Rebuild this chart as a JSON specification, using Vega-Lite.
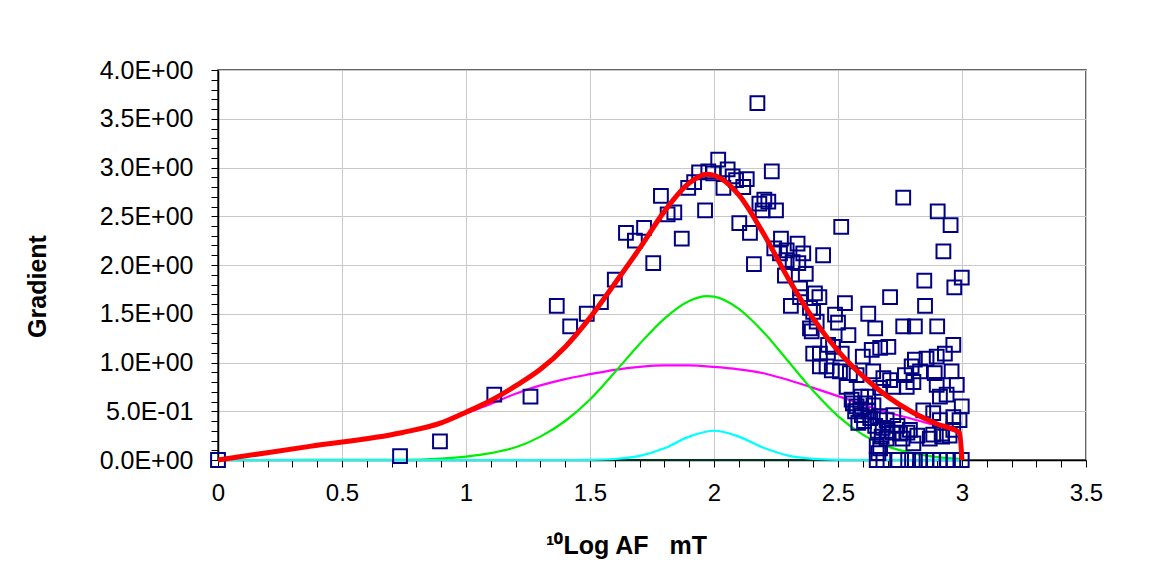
{
  "$schema": "https://vega.github.io/schema/vega-lite/v6.json",
  "autosize": {"type": "none"},
  "width": 868,
  "height": 390,
  "padding": {"left": 218, "top": 70, "right": 83, "bottom": 112},
  "background": "white",
  "config": {
    "view": {"stroke": "#333333", "strokeWidth": 1.5},
    "font": "Liberation Sans"
  },
  "datasets": {
    "pts": [
      {"x": 0, "y": 0}, {"x": 0.734, "y": 0.04}, {"x": 0.895, "y": 0.19}, {"x": 1.114, "y": 0.67}, {"x": 1.26, "y": 0.65},
      {"x": 1.366, "y": 1.58}, {"x": 1.42, "y": 1.37}, {"x": 1.487, "y": 1.5}, {"x": 1.544, "y": 1.62}, {"x": 1.6, "y": 1.85},
      {"x": 1.645, "y": 2.33}, {"x": 1.681, "y": 2.25}, {"x": 1.718, "y": 2.38}, {"x": 1.755, "y": 2.02}, {"x": 1.786, "y": 2.71},
      {"x": 1.813, "y": 2.52}, {"x": 1.84, "y": 2.54}, {"x": 1.87, "y": 2.27}, {"x": 1.896, "y": 2.79}, {"x": 1.92, "y": 2.85},
      {"x": 1.94, "y": 2.95}, {"x": 1.964, "y": 2.56}, {"x": 1.977, "y": 2.96}, {"x": 1.997, "y": 2.94}, {"x": 2.017, "y": 3.08},
      {"x": 2.038, "y": 2.79}, {"x": 2.055, "y": 2.98}, {"x": 2.075, "y": 2.91}, {"x": 2.089, "y": 2.87}, {"x": 2.102, "y": 2.43},
      {"x": 2.118, "y": 2.8}, {"x": 2.132, "y": 2.88}, {"x": 2.145, "y": 2.33}, {"x": 2.161, "y": 2.01}, {"x": 2.175, "y": 3.66},
      {"x": 2.183, "y": 2.63}, {"x": 2.196, "y": 2.56}, {"x": 2.203, "y": 2.67}, {"x": 2.219, "y": 2.65}, {"x": 2.233, "y": 2.96},
      {"x": 2.243, "y": 2.17}, {"x": 2.25, "y": 2.56}, {"x": 2.266, "y": 2.12}, {"x": 2.27, "y": 2.27}, {"x": 2.286, "y": 1.89},
      {"x": 2.293, "y": 2.15}, {"x": 2.293, "y": 2.05}, {"x": 2.31, "y": 1.58}, {"x": 2.317, "y": 2.03}, {"x": 2.337, "y": 2.22},
      {"x": 2.34, "y": 2.02}, {"x": 2.347, "y": 1.76}, {"x": 2.347, "y": 1.67}, {"x": 2.36, "y": 2.12}, {"x": 2.37, "y": 1.91},
      {"x": 2.387, "y": 1.56}, {"x": 2.387, "y": 1.35}, {"x": 2.394, "y": 1.32}, {"x": 2.4, "y": 1.52}, {"x": 2.4, "y": 1.09},
      {"x": 2.407, "y": 1.71}, {"x": 2.414, "y": 1.42}, {"x": 2.425, "y": 1.67}, {"x": 2.427, "y": 1.09}, {"x": 2.427, "y": 0.96},
      {"x": 2.44, "y": 2.1}, {"x": 2.454, "y": 0.96}, {"x": 2.46, "y": 1.18}, {"x": 2.475, "y": 0.92}, {"x": 2.48, "y": 1.16},
      {"x": 2.488, "y": 1.49}, {"x": 2.5, "y": 1.41}, {"x": 2.508, "y": 0.91}, {"x": 2.513, "y": 2.39}, {"x": 2.515, "y": 1.09},
      {"x": 2.528, "y": 1.61}, {"x": 2.535, "y": 0.75}, {"x": 2.542, "y": 1.28}, {"x": 2.548, "y": 0.89}, {"x": 2.555, "y": 0.62},
      {"x": 2.56, "y": 0.58}, {"x": 2.569, "y": 0.5}, {"x": 2.575, "y": 0.87}, {"x": 2.575, "y": 0.55}, {"x": 2.582, "y": 0.38},
      {"x": 2.59, "y": 0.52}, {"x": 2.593, "y": 0.65}, {"x": 2.596, "y": 0.46}, {"x": 2.6, "y": 1.06}, {"x": 2.605, "y": 0.4},
      {"x": 2.61, "y": 0.58}, {"x": 2.622, "y": 0.65}, {"x": 2.622, "y": 0.5}, {"x": 2.622, "y": 1.5}, {"x": 2.63, "y": 0.43},
      {"x": 2.636, "y": 1.13}, {"x": 2.642, "y": 0.91}, {"x": 2.643, "y": 0.56}, {"x": 2.65, "y": 1.35}, {"x": 2.65, "y": 0.35},
      {"x": 2.656, "y": 0.14}, {"x": 2.66, "y": 0.3}, {"x": 2.663, "y": 0.07}, {"x": 2.67, "y": 1.15}, {"x": 2.67, "y": 0.74},
      {"x": 2.67, "y": 0.12}, {"x": 2.67, "y": 0.45}, {"x": 2.676, "y": 0.24}, {"x": 2.68, "y": 0.33}, {"x": 2.683, "y": 0.84},
      {"x": 2.696, "y": 0.41}, {"x": 2.696, "y": 0.22}, {"x": 2.7, "y": 0.3}, {"x": 2.703, "y": 1.16}, {"x": 2.71, "y": 1.67},
      {"x": 2.71, "y": 0.82}, {"x": 2.72, "y": 0.28}, {"x": 2.723, "y": 0.75}, {"x": 2.723, "y": 0.46}, {"x": 2.74, "y": 0.35},
      {"x": 2.75, "y": 0.27}, {"x": 2.76, "y": 0.22}, {"x": 2.763, "y": 2.69}, {"x": 2.763, "y": 1.37}, {"x": 2.77, "y": 0.87},
      {"x": 2.777, "y": 0.75}, {"x": 2.78, "y": 0.28}, {"x": 2.79, "y": 0.31}, {"x": 2.797, "y": 0.96}, {"x": 2.804, "y": 0.8},
      {"x": 2.804, "y": 0.17}, {"x": 2.81, "y": 1.37}, {"x": 2.81, "y": 1.03}, {"x": 2.82, "y": 0.25}, {"x": 2.831, "y": 0.91},
      {"x": 2.844, "y": 0.51}, {"x": 2.848, "y": 1.84}, {"x": 2.851, "y": 1.58}, {"x": 2.857, "y": 1.04}, {"x": 2.87, "y": 0.22},
      {"x": 2.884, "y": 0.48}, {"x": 2.884, "y": 0.26}, {"x": 2.89, "y": 0.89}, {"x": 2.898, "y": 1.06}, {"x": 2.898, "y": 0.77},
      {"x": 2.9, "y": 1.37}, {"x": 2.902, "y": 2.55}, {"x": 2.911, "y": 0.65}, {"x": 2.911, "y": 0.41}, {"x": 2.918, "y": 0.27},
      {"x": 2.92, "y": 0.24}, {"x": 2.925, "y": 2.14}, {"x": 2.931, "y": 1.09}, {"x": 2.938, "y": 0.67}, {"x": 2.95, "y": 0.25},
      {"x": 2.954, "y": 2.41}, {"x": 2.958, "y": 0.91}, {"x": 2.965, "y": 1.18}, {"x": 2.965, "y": 0.44}, {"x": 2.965, "y": 0.31},
      {"x": 2.969, "y": 1.77}, {"x": 2.979, "y": 0.77}, {"x": 2.99, "y": 0.41}, {"x": 2.999, "y": 1.87}, {"x": 2.999, "y": 0.55},
      {"x": 2.656, "y": 0}, {"x": 2.683, "y": 0}, {"x": 2.743, "y": 0}, {"x": 2.783, "y": 0}, {"x": 2.81, "y": 0},
      {"x": 2.831, "y": 0}, {"x": 2.857, "y": 0}, {"x": 2.884, "y": 0}, {"x": 2.911, "y": 0}, {"x": 2.938, "y": 0},
      {"x": 2.965, "y": 0}, {"x": 2.999, "y": 0}
    ],
    "curves": [
      {"s": "zero", "x": 0, "y": 0}, {"s": "zero", "x": 3.0, "y": 0},
      {"s": "mag", "x": 0, "y": 0}, {"s": "mag", "x": 0.37, "y": 0.14}, {"s": "mag", "x": 0.74, "y": 0.28}, {"s": "mag", "x": 0.9, "y": 0.38}, {"s": "mag", "x": 1.0, "y": 0.48},
      {"s": "mag", "x": 1.1, "y": 0.575}, {"s": "mag", "x": 1.2, "y": 0.68}, {"s": "mag", "x": 1.3, "y": 0.765}, {"s": "mag", "x": 1.4, "y": 0.83},
      {"s": "mag", "x": 1.5, "y": 0.88}, {"s": "mag", "x": 1.6, "y": 0.925}, {"s": "mag", "x": 1.7, "y": 0.955}, {"s": "mag", "x": 1.8, "y": 0.97},
      {"s": "mag", "x": 1.9, "y": 0.97}, {"s": "mag", "x": 2.0, "y": 0.955}, {"s": "mag", "x": 2.1, "y": 0.93}, {"s": "mag", "x": 2.2, "y": 0.89},
      {"s": "mag", "x": 2.3, "y": 0.82}, {"s": "mag", "x": 2.4, "y": 0.74}, {"s": "mag", "x": 2.5, "y": 0.655}, {"s": "mag", "x": 2.6, "y": 0.57},
      {"s": "mag", "x": 2.7, "y": 0.49}, {"s": "mag", "x": 2.8, "y": 0.42}, {"s": "mag", "x": 2.9, "y": 0.35}, {"s": "mag", "x": 2.99, "y": 0.28},
      {"s": "grn", "x": 0, "y": 0}, {"s": "grn", "x": 0.74, "y": 0.002}, {"s": "grn", "x": 0.9, "y": 0.015}, {"s": "grn", "x": 1.0, "y": 0.035},
      {"s": "grn", "x": 1.1, "y": 0.07}, {"s": "grn", "x": 1.2, "y": 0.13}, {"s": "grn", "x": 1.3, "y": 0.24}, {"s": "grn", "x": 1.4, "y": 0.4},
      {"s": "grn", "x": 1.5, "y": 0.62}, {"s": "grn", "x": 1.6, "y": 0.9}, {"s": "grn", "x": 1.7, "y": 1.19}, {"s": "grn", "x": 1.8, "y": 1.45},
      {"s": "grn", "x": 1.9, "y": 1.63}, {"s": "grn", "x": 1.97, "y": 1.68}, {"s": "grn", "x": 2.0, "y": 1.675}, {"s": "grn", "x": 2.1, "y": 1.55},
      {"s": "grn", "x": 2.2, "y": 1.31}, {"s": "grn", "x": 2.3, "y": 1.01}, {"s": "grn", "x": 2.4, "y": 0.71}, {"s": "grn", "x": 2.5, "y": 0.45},
      {"s": "grn", "x": 2.6, "y": 0.26}, {"s": "grn", "x": 2.7, "y": 0.14}, {"s": "grn", "x": 2.8, "y": 0.07}, {"s": "grn", "x": 2.9, "y": 0.03},
      {"s": "grn", "x": 3.0, "y": 0.01},
      {"s": "cyn", "x": 0, "y": 0}, {"s": "cyn", "x": 1.4, "y": 0}, {"s": "cyn", "x": 1.5, "y": 0.002}, {"s": "cyn", "x": 1.6, "y": 0.01},
      {"s": "cyn", "x": 1.7, "y": 0.042}, {"s": "cyn", "x": 1.8, "y": 0.12}, {"s": "cyn", "x": 1.9, "y": 0.24}, {"s": "cyn", "x": 2.0, "y": 0.3},
      {"s": "cyn", "x": 2.1, "y": 0.24}, {"s": "cyn", "x": 2.2, "y": 0.125}, {"s": "cyn", "x": 2.3, "y": 0.045}, {"s": "cyn", "x": 2.4, "y": 0.012},
      {"s": "cyn", "x": 2.5, "y": 0.002}, {"s": "cyn", "x": 2.6, "y": 0}, {"s": "cyn", "x": 3.0, "y": 0},
      {"s": "red", "x": 0, "y": 0}, {"s": "red", "x": 0.37, "y": 0.14}, {"s": "red", "x": 0.74, "y": 0.28}, {"s": "red", "x": 0.9, "y": 0.38}, {"s": "red", "x": 1.0, "y": 0.49},
      {"s": "red", "x": 1.1, "y": 0.61}, {"s": "red", "x": 1.2, "y": 0.76}, {"s": "red", "x": 1.3, "y": 0.93}, {"s": "red", "x": 1.4, "y": 1.16},
      {"s": "red", "x": 1.5, "y": 1.46}, {"s": "red", "x": 1.6, "y": 1.81}, {"s": "red", "x": 1.7, "y": 2.17}, {"s": "red", "x": 1.8, "y": 2.55},
      {"s": "red", "x": 1.9, "y": 2.84}, {"s": "red", "x": 1.97, "y": 2.93}, {"s": "red", "x": 2.0, "y": 2.92}, {"s": "red", "x": 2.1, "y": 2.72},
      {"s": "red", "x": 2.2, "y": 2.32}, {"s": "red", "x": 2.3, "y": 1.86}, {"s": "red", "x": 2.4, "y": 1.45}, {"s": "red", "x": 2.5, "y": 1.12},
      {"s": "red", "x": 2.6, "y": 0.86}, {"s": "red", "x": 2.7, "y": 0.65}, {"s": "red", "x": 2.8, "y": 0.49}, {"s": "red", "x": 2.9, "y": 0.37},
      {"s": "red", "x": 2.99, "y": 0.28}, {"s": "red", "x": 3.0, "y": 0}
    ]
  },
  "encoding": {
    "x": {
      "field": "x", "type": "quantitative",
      "scale": {"domain": [0, 3.5], "nice": false, "zero": false},
      "axis": {
        "values": [0, 0.1, 0.2, 0.3, 0.4, 0.5, 0.6, 0.7, 0.8, 0.9, 1, 1.1, 1.2, 1.3, 1.4, 1.5, 1.6, 1.7, 1.8, 1.9, 2, 2.1, 2.2, 2.3, 2.4, 2.5, 2.6, 2.7, 2.8, 2.9, 3, 3.1, 3.2, 3.3, 3.4, 3.5],
        "labelExpr": "abs(datum.value*2 - round(datum.value*2)) < 0.001 ? format(datum.value, '~g') : ''",
        "labelOverlap": false, "labelFlush": false, "labelBound": false,
        "labelFont": "Liberation Sans", "labelFontSize": 24, "labelColor": "#000000", "labelPadding": 14,
        "grid": true,
        "gridColor": {"condition": {"test": "abs(datum.value*2 - round(datum.value*2)) < 0.001", "value": "#c8c8c8"}, "value": "transparent"},
        "gridWidth": 1,
        "tickColor": "#000000", "tickSize": 7, "tickWidth": 1,
        "domainColor": "#000000", "domainWidth": 1.5,
        "title": "\u00b9\u2070Log AF\u00a0\u00a0\u00a0mT",
        "titleFont": "Liberation Sans", "titleFontSize": 25, "titleFontWeight": "bold", "titleColor": "#000000",
        "titleX": 408, "titleY": 85, "titleBaseline": "middle", "titleAlign": "center"
      }
    },
    "y": {
      "field": "y", "type": "quantitative",
      "scale": {"domain": [0, 4], "nice": false},
      "axis": {
        "values": [0, 0.1, 0.2, 0.3, 0.4, 0.5, 0.6, 0.7, 0.8, 0.9, 1, 1.1, 1.2, 1.3, 1.4, 1.5, 1.6, 1.7, 1.8, 1.9, 2, 2.1, 2.2, 2.3, 2.4, 2.5, 2.6, 2.7, 2.8, 2.9, 3, 3.1, 3.2, 3.3, 3.4, 3.5, 3.6, 3.7, 3.8, 3.9, 4],
        "labelExpr": "abs(datum.value*2 - round(datum.value*2)) < 0.001 ? (datum.value == 0 ? '0.0E+00' : (datum.value < 1 ? format(datum.value*10, '.1f') + 'E-01' : format(datum.value, '.1f') + 'E+00')) : ''",
        "labelOverlap": false, "labelFlush": false, "labelBound": false,
        "labelFont": "Liberation Sans", "labelFontSize": 25, "labelColor": "#000000", "labelPadding": 18,
        "grid": true,
        "gridColor": {"condition": {"test": "abs(datum.value*2 - round(datum.value*2)) < 0.001", "value": "#c8c8c8"}, "value": "transparent"},
        "gridWidth": 1,
        "tickColor": "#000000", "tickSize": 7, "tickWidth": 1,
        "domainColor": "#000000", "domainWidth": 1.5,
        "title": "Gradient",
        "titleFont": "Liberation Sans", "titleFontSize": 25, "titleFontWeight": "bold", "titleColor": "#000000",
        "titleX": -181, "titleY": 216, "titleBaseline": "middle", "titleAlign": "center", "titleAngle": 270
      }
    }
  },
  "layer": [
    {
      "data": {"name": "curves"},
      "transform": [{"filter": "datum.s != 'red'"}],
      "mark": {"type": "line", "strokeWidth": 2.2, "interpolate": "monotone"},
      "encoding": {
        "color": {
          "field": "s", "type": "nominal",
          "scale": {"domain": ["zero", "mag", "grn", "cyn"], "range": ["#00331f", "#ff00ff", "#00ee00", "#00ffff"]},
          "legend": null
        },
        "detail": {"field": "s"}
      }
    },
    {
      "data": {"name": "pts"},
      "mark": {"type": "point", "shape": "square", "filled": false, "size": 190, "strokeWidth": 2, "color": "#000080", "opacity": 1},
      "encoding": {}
    },
    {
      "data": {"name": "curves"},
      "transform": [{"filter": "datum.s == 'red'"}],
      "mark": {"type": "line", "strokeWidth": 5, "color": "#ff0000", "interpolate": "monotone"},
      "encoding": {}
    }
  ]
}
